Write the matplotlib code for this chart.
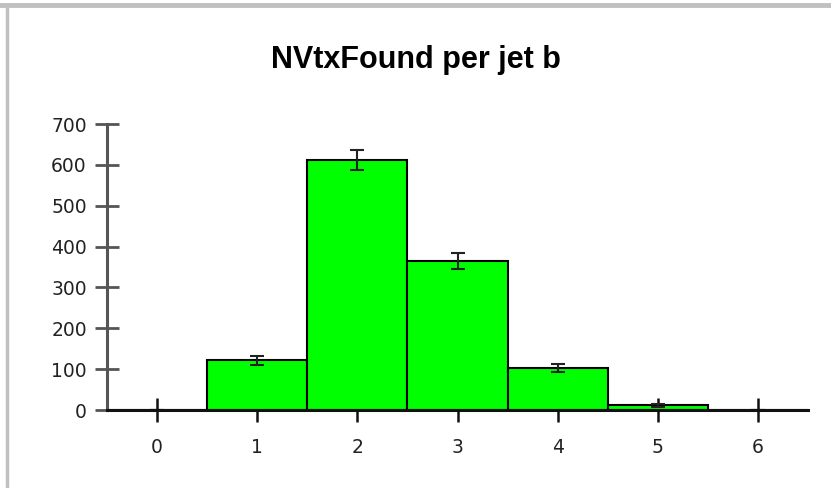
import numpy as np
import matplotlib
import matplotlib.pyplot as plt
from matplotlib.lines import Line2D

matplotlib.use('Agg')

plt.rcParams['font.family'] = ['Liberation Sans', 'DejaVu Sans']

# histogram content
n_vtx = [0, 1, 2, 3, 4, 5, 6]
counts = [0, 122, 611, 364, 103, 12, 0]
y_ticks = [0, 100, 200, 300, 400, 500, 600, 700]
title = 'NVtxFound per jet b'

errors = np.sqrt(counts)

fig = plt.figure(figsize=(8.31, 4.88), dpi=100)
ax = fig.add_axes([107 / 831, 1 - 410 / 488, 701 / 831, 286 / 488])

ax.bar(n_vtx, counts, width=1.0, color='#00ff00', edgecolor='black', linewidth=1.5, zorder=2)
ax.errorbar(n_vtx, counts, yerr=errors, fmt='none', ecolor='#222222',
            elinewidth=1.5, capsize=5, capthick=1.5, zorder=3)

ax.set_xlim(-0.5, 6.5)
ax.set_ylim(0, 700)
ax.set_xticks(n_vtx)
ax.set_yticks(y_ticks)

for side in ['top', 'right']:
    ax.spines[side].set_visible(False)
ax.spines['left'].set_color('#555555')
ax.spines['left'].set_linewidth(2.2)
ax.spines['bottom'].set_color('#111111')
ax.spines['bottom'].set_linewidth(2.2)
ax.spines['bottom'].set_zorder(4)

ax.tick_params(axis='y', direction='inout', length=17, width=2, color='#555555',
               labelsize=13.5, pad=6, labelcolor='#222222')
ax.tick_params(axis='x', direction='inout', length=17, width=1.8, color='#111111',
               labelsize=13.5, pad=12, labelcolor='#222222')
for lab in ax.get_xticklabels() + ax.get_yticklabels():
    lab.set_family('DejaVu Sans')

# title sits centred on the whole figure
fig.text(0.5, 1 - 60 / 488, title, fontsize=22, fontweight='bold',
         ha='center', va='center')

# light grey frame along top and left
fig.add_artist(Line2D([0, 1], [1 - 5 / 488, 1 - 5 / 488], color='#c0c0c0', linewidth=3.5))
fig.add_artist(Line2D([7 / 831, 7 / 831], [0, 1 - 5 / 488], color='#c0c0c0', linewidth=2.5))

plt.savefig('out.png', dpi=100)
